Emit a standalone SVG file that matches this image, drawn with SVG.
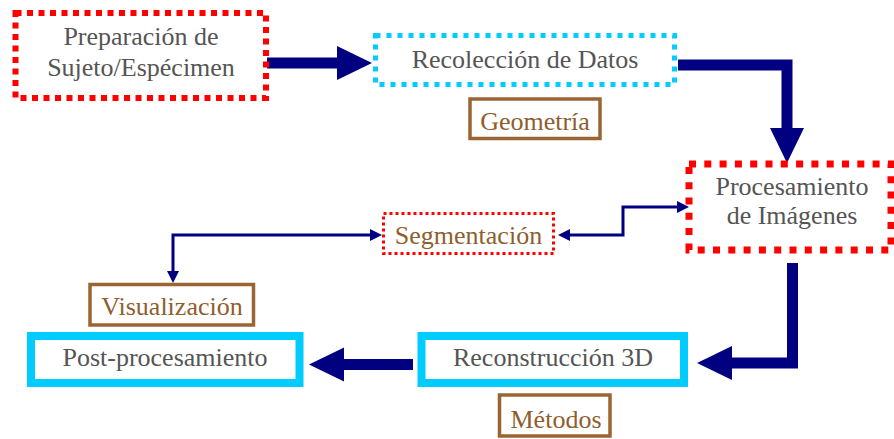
<svg xmlns="http://www.w3.org/2000/svg" width="894" height="439" viewBox="0 0 894 439">
<style>
.t{font-family:"Liberation Serif","Times New Roman",serif;font-size:26px;text-anchor:middle;fill:#555555}
.b{fill:#8f5e2e}
.lab{fill:#ffffff;stroke:#996633;stroke-width:3.5}
.thick{fill:none;stroke:#000080;stroke-width:11}
.thin{fill:none;stroke:#000080;stroke-width:3}
</style>
<defs>
<marker id="big" markerUnits="userSpaceOnUse" markerWidth="36" markerHeight="36" refX="1" refY="17" orient="auto" overflow="visible">
<path d="M0,0 L35,17 L0,34 Z" fill="#000080"/>
</marker>
<marker id="sm" markerUnits="userSpaceOnUse" markerWidth="14" markerHeight="14" refX="1" refY="6" orient="auto-start-reverse" overflow="visible">
<path d="M0,0 L12,6 L0,12 Z" fill="#000080"/>
</marker>
</defs>
<rect width="894" height="439" fill="#ffffff"/>
<g id="connectors">
<path class="thick" d="M267,63 H338" marker-end="url(#big)"/>
<path class="thick" d="M678,65 H787 V129" marker-end="url(#big)"/>
<path class="thick" d="M792.5,263 V363 H731" marker-end="url(#big)"/>
<path class="thick" d="M413,364.5 H343" marker-end="url(#big)"/>
<path class="thin" d="M569,235 H623 V207 H678" marker-start="url(#sm)" marker-end="url(#sm)"/>
<path class="thin" d="M371,235 H173 V272" marker-start="url(#sm)" marker-end="url(#sm)"/>
</g>
<g id="preparacion">
<rect x="15.5" y="13" width="250.5" height="85" fill="#ffffff" stroke="#ff0000" stroke-width="6" stroke-dasharray="6 5.5"/>
<text class="t" x="141" y="45">Preparación de</text>
<text class="t" x="141" y="76">Sujeto/Espécimen</text>
</g>
<g id="recoleccion">
<rect x="375.5" y="35.5" width="299" height="49" fill="#ffffff" stroke="#00ccff" stroke-width="5" stroke-dasharray="5 6"/>
<text class="t" x="525" y="68">Recolección de Datos</text>
</g>
<g id="geometria">
<rect class="lab" x="470" y="99" width="130" height="39.5"/>
<text class="t b" x="535" y="130">Geometría</text>
</g>
<g id="procesamiento">
<rect x="689" y="164" width="202" height="86" fill="#ffffff" stroke="#ff0000" stroke-width="7" stroke-dasharray="7 8.3"/>
<text class="t" x="792" y="195">Procesamiento</text>
<text class="t" x="792" y="224">de Imágenes</text>
</g>
<g id="segmentacion">
<rect x="383.5" y="213.5" width="170" height="40" fill="#ffffff" stroke="#ff0000" stroke-width="3" stroke-dasharray="3 3"/>
<text class="t b" x="468.5" y="244">Segmentación</text>
</g>
<g id="visualizacion">
<rect class="lab" x="90" y="284.5" width="163.5" height="40.5"/>
<text class="t b" x="172" y="315">Visualización</text>
</g>
<g id="postprocesamiento">
<rect x="31" y="336" width="268.5" height="47" fill="#ffffff" stroke="#00ccff" stroke-width="8"/>
<text class="t" x="165" y="366">Post-procesamiento</text>
</g>
<g id="reconstruccion">
<rect x="421.5" y="336" width="262.5" height="47" fill="#ffffff" stroke="#00ccff" stroke-width="8"/>
<text class="t" x="553" y="366">Reconstrucción 3D</text>
</g>
<g id="metodos">
<rect class="lab" x="499.5" y="395" width="110.5" height="41"/>
<text class="t b" x="556" y="428">Métodos</text>
</g>
</svg>
